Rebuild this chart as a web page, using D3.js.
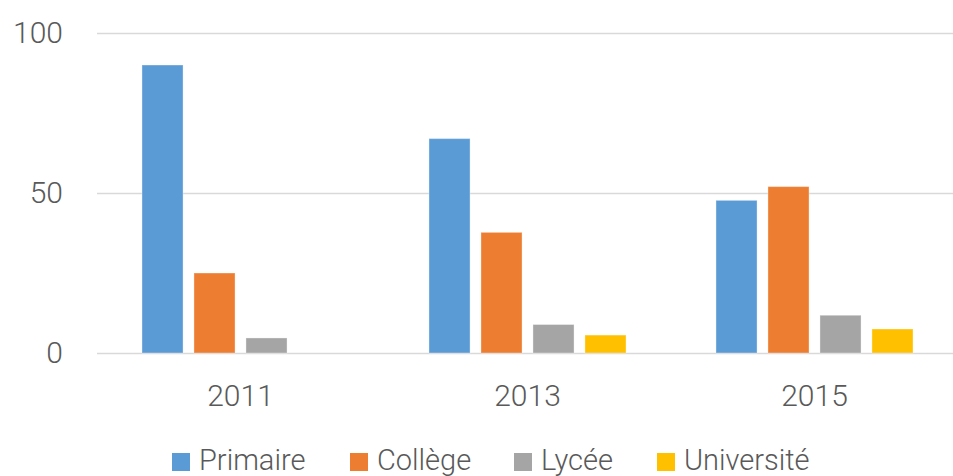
<!DOCTYPE html>
<html><head><meta charset="utf-8">
<script src="https://cdn.jsdelivr.net/npm/d3@7"></script>
<style>
body{margin:0;background:#fff;}
text{font-family:Roboto,"DejaVu Sans Condensed",sans-serif;font-weight:300;fill:#595959;}
</style></head>
<body><svg id="c" width="953" height="476"></svg>
<script>
const years = ["2011","2013","2015"];
const series = ["Primaire","Collège","Lycée","Université"];
const colors = ["#5b9bd5","#ed7d31","#a5a5a5","#ffc000"];
const primaire = [90,67,47.7];
const college = [25,37.7,52];
const lycee = [4.7,8.9,11.8];
const universite = [0,5.6,7.5];
const yTicks = [0,50,100];
const values = [primaire,college,lycee,universite];

(function(){
const svg = d3.select("#c");
const mLeft = 97, mRight = 953, mTop = 33, mBottom = 353;
const y = d3.scaleLinear().domain([0,100]).range([mBottom, mTop]);
const x0 = d3.scaleBand().domain(years).range([mLeft, mLeft + 3*287]).padding(0);
const x1 = d3.scaleBand().domain(series).range([0, x0.bandwidth()]).paddingInner(0.21).paddingOuter(0.865);

const yAxis = svg.append("g").attr("transform",`translate(${mLeft},0)`)
  .call(d3.axisLeft(y).tickValues(yTicks).tickSize(-(mRight-mLeft)).tickPadding(34));
yAxis.select(".domain").remove();
yAxis.selectAll("line").attr("stroke","#d9d9d9").attr("stroke-width",1.5);
yAxis.selectAll("text").style("font-size","30px");

const groups = svg.append("g").selectAll("g").data(years).join("g")
  .attr("transform", d => `translate(${x0(d)},0)`);
groups.selectAll("rect").data((d,i) => series.map((s,j) => ({s, v: values[j][i], c: colors[j]})))
  .join("rect")
  .attr("x", d => x1(d.s)).attr("width", x1.bandwidth())
  .attr("y", d => y(d.v)).attr("height", d => y(0) - y(d.v))
  .attr("fill", d => d.c)
  .attr("stroke", "#ffffff").attr("stroke-opacity",0.35).attr("stroke-width",1)
  .style("display", d => d.v > 0 ? null : "none");

const xAxis = svg.append("g").attr("transform",`translate(0,${mBottom})`)
  .call(d3.axisBottom(x0).tickSize(0).tickPadding(32));
xAxis.select(".domain").remove();
xAxis.selectAll("text").style("font-size","30px");

const legX = [172, 350, 514, 657];
const leg = svg.append("g").selectAll("g").data(series).join("g")
  .attr("transform", (d,i) => `translate(${legX[i]},453)`);
leg.append("rect").attr("width",18).attr("height",18).attr("fill",(d,i)=>colors[i]);
leg.append("text").attr("x",27).attr("y",17).text(d=>d).style("font-size","29px");
})();
</script></body></html>
